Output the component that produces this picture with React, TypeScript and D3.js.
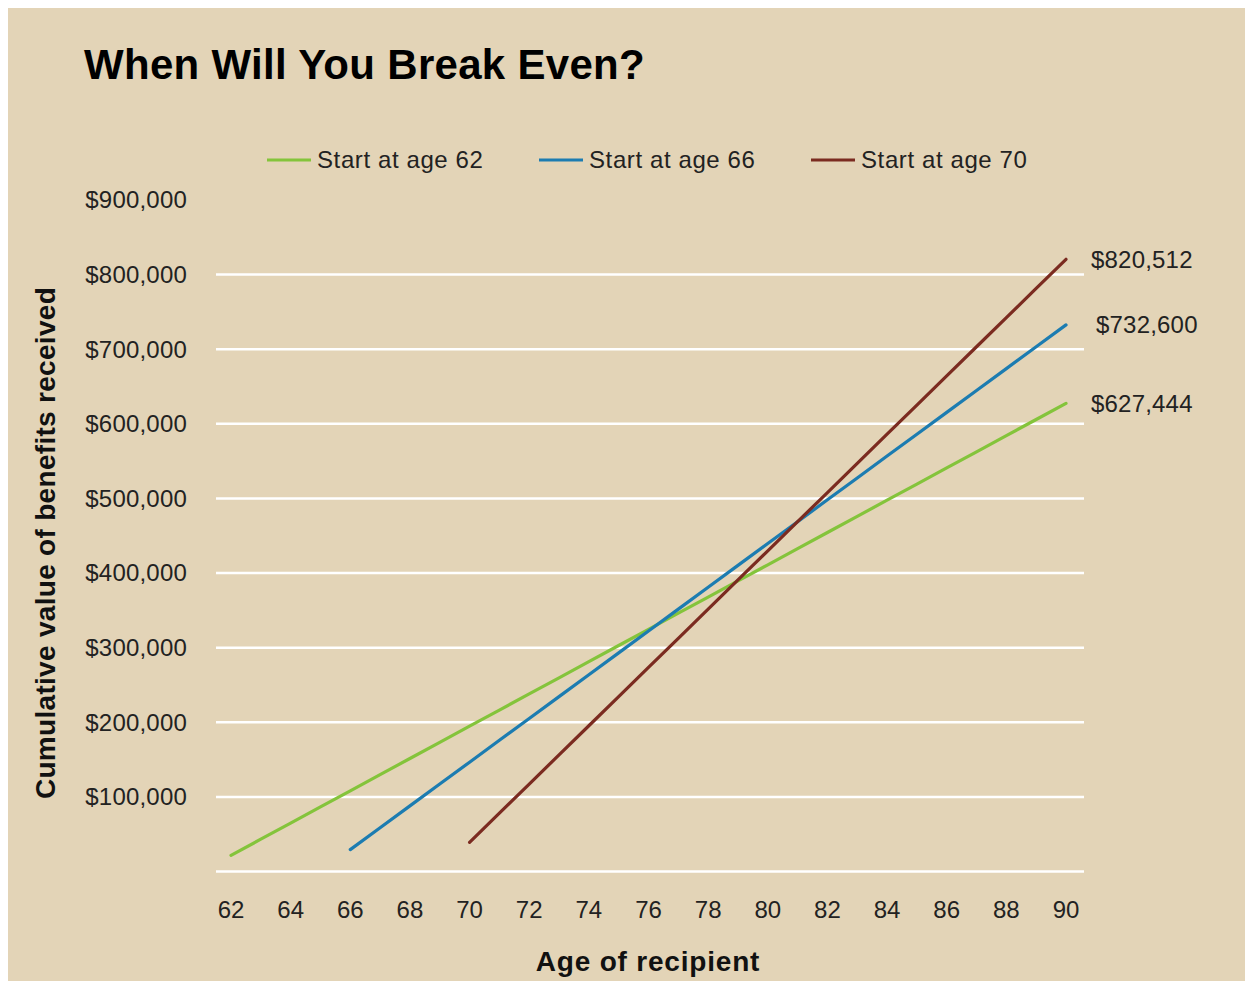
import React from 'react';
import * as d3 from 'd3';

// Ages on the x axis (one point per year)
const ages = [62, 63, 64, 65, 66, 67, 68, 69, 70, 71, 72, 73, 74, 75, 76, 77, 78, 79, 80, 81, 82, 83, 84, 85, 86, 87, 88, 89, 90];

// Cumulative benefits received by age
const start62 = [21636, 43272, 64908, 86544, 108180, 129816, 151452, 173088, 194724, 216360, 237996, 259632, 281268, 302904, 324540, 346176, 367812, 389448, 411084, 432720, 454356, 475992, 497628, 519264, 540900, 562536, 584172, 605808, 627444];
const start66 = [29304, 58608, 87912, 117216, 146520, 175824, 205128, 234432, 263736, 293040, 322344, 351648, 380952, 410256, 439560, 468864, 498168, 527472, 556776, 586080, 615384, 644688, 673992, 703296, 732600];
const start70 = [39072, 78144, 117216, 156288, 195360, 234432, 273504, 312576, 351648, 390720, 429792, 468864, 507936, 547008, 586080, 625152, 664224, 703296, 742368, 781440, 820512];

const seriesNames = ['Start at age 62', 'Start at age 66', 'Start at age 70'];
const seriesColors = ['#84c43b', '#1c7cb1', '#7b2b20'];
const endLabels = ['$627,444', '$732,600', '$820,512'];

const xTicks = [62, 64, 66, 68, 70, 72, 74, 76, 78, 80, 82, 84, 86, 88, 90];
const yTicks = [100000, 200000, 300000, 400000, 500000, 600000, 700000, 800000, 900000];
const gridValues = [0, 100000, 200000, 300000, 400000, 500000, 600000, 700000, 800000];

const W = 1245;
const H = 973;
const font = '"Liberation Sans", Arial, sans-serif';

export default function App() {
  const x = d3.scaleLinear().domain([62, 90]).range([223, 1058]);
  const y = d3.scaleLinear().domain([0, 900000]).range([863.5, 192]);

  const series = [
    { ages: ages, values: start62 },
    { ages: ages.slice(4), values: start66 },
    { ages: ages.slice(8), values: start70 },
  ];

  const line = d3.line<[number, number]>()
    .x(d => x(d[0]))
    .y(d => y(d[1]));

  const fmt = d3.format('$,');

  // legend positions
  const legendX = [259, 531, 803];
  const labelDx = [25, 30, 25];

  return (
    <svg width={W} height={H} style={{ display: 'block' }} fontFamily={font}>
      <rect x={0} y={0} width={W} height={H} fill="#e3d4b7" />

      <text x={76} y={71} fontSize={42} fontWeight="bold" letterSpacing={0.3} fill="#000">When Will You Break Even?</text>

      {/* legend */}
      {seriesNames.map((name, i) => (
        <g key={name}>
          <line x1={legendX[i]} x2={legendX[i] + 44} y1={152} y2={152} stroke={seriesColors[i]} strokeWidth={3} />
          <text x={legendX[i] + 50} y={152} dy="0.35em" fontSize={24} letterSpacing={0.6} fill="#222">{name}</text>
        </g>
      ))}

      {/* gridlines */}
      {gridValues.map(v => (
        <line key={v} x1={208} x2={1076} y1={y(v)} y2={y(v)} stroke="#ffffff" strokeWidth={2.5} />
      ))}

      {/* y tick labels */}
      {yTicks.map(v => (
        <text key={v} x={179} y={y(v)} dy="0.35em" textAnchor="end" fontSize={24} letterSpacing={0.2} fill="#222">{fmt(v)}</text>
      ))}

      {/* x tick labels */}
      {xTicks.map(v => (
        <text key={v} x={x(v)} y={910} textAnchor="middle" fontSize={24} fill="#222">{v}</text>
      ))}

      {/* lines */}
      {series.map((s, i) => (
        <path
          key={i}
          d={line(s.ages.map((a, j) => [a, s.values[j]] as [number, number])) || ''}
          fill="none"
          stroke={seriesColors[i]}
          strokeWidth={3.2}
          strokeLinecap="round"
        />
      ))}

      {/* end labels */}
      {series.map((s, i) => (
        <text
          key={i}
          x={x(90) + labelDx[i]}
          y={y(s.values[s.values.length - 1])}
          dy="0.35em"
          fontSize={24}
          letterSpacing={0.2}
          fill="#222"
        >{endLabels[i]}</text>
      ))}

      {/* axis titles */}
      <text
        transform={`translate(37,535) rotate(-90)`}
        textAnchor="middle"
        dy="0.35em"
        fontSize={28}
        fontWeight="bold"
        letterSpacing={0.3}
        fill="#111"
      >Cumulative value of benefits received</text>
      <text x={640} y={963} textAnchor="middle" fontSize={28} fontWeight="bold" letterSpacing={0.8} fill="#111">Age of recipient</text>
    </svg>
  );
}
